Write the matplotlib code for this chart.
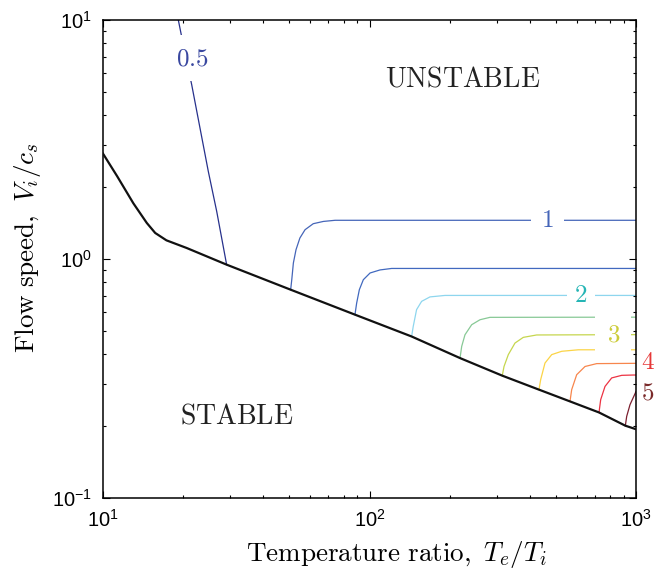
import matplotlib
matplotlib.use('Agg')
import matplotlib.pyplot as plt
from matplotlib.ticker import FixedLocator, LogLocator, NullFormatter

# ---------------- data ----------------
boundary_T = [10, 11.3, 13.0, 14.6, 15.7, 17.3, 20.6, 29.1, 50.6, 88.2, 143.9,
              218.6, 314.9, 432.5, 565.3, 726.4, 912, 1000]
boundary_V = [2.76, 2.22, 1.71, 1.415, 1.285, 1.197, 1.112, 0.947, 0.744, 0.585,
              0.474, 0.385, 0.325, 0.284, 0.2536, 0.228, 0.2007, 0.194]

c05_T = [19.17, 20.01, 21.52, 23.12, 24.84, 26.71, 29.1]
c05_V = [10.0, 7.88, 5.36, 3.53, 2.325, 1.582, 0.947]
c10_T = [50.6, 51.1, 51.8, 53.0, 54.8, 57.3, 61.5, 67.1, 74.3, 1000]
c10_V = [0.744, 0.821, 0.962, 1.094, 1.224, 1.326, 1.405, 1.436, 1.452, 1.452]
c15_T = [88.2, 89.5, 91.6, 94.8, 100.5, 109.5, 121.1, 1000]
c15_V = [0.585, 0.654, 0.744, 0.819, 0.874, 0.900, 0.913, 0.913]
c20_T = [143.9, 145.9, 150.2, 156.9, 168.6, 191.9, 1000]
c20_V = [0.474, 0.522, 0.614, 0.665, 0.694, 0.704, 0.704]
c25_T = [218.6, 221.8, 228.2, 241.8, 259.8, 283.1, 1000]
c25_V = [0.385, 0.431, 0.482, 0.531, 0.557, 0.570, 0.571]
c30_T = [314.9, 319.7, 331.8, 351.5, 377.6, 423.8, 1000]
c30_V = [0.325, 0.355, 0.398, 0.445, 0.470, 0.481, 0.4825]
c35_T = [432.5, 438.9, 455.5, 482.7, 526.3, 607.5, 1000]
c35_V = [0.284, 0.313, 0.367, 0.398, 0.411, 0.417, 0.417]
c40_T = [565.3, 573.7, 599.0, 643.7, 712.1, 1000]
c40_V = [0.2536, 0.284, 0.328, 0.355, 0.365, 0.366]
c45_T = [726.4, 737.1, 765.1, 810.6, 883.8, 977, 1000]
c45_V = [0.228, 0.258, 0.293, 0.318, 0.326, 0.327, 0.327]
c50_T = [912, 922.7, 949.5, 991.3, 1000]
c50_V = [0.2007, 0.2195, 0.2457, 0.273, 0.279]

contour_T = [c05_T, c10_T, c15_T, c20_T, c25_T, c30_T, c35_T, c40_T, c45_T, c50_T]
contour_V = [c05_V, c10_V, c15_V, c20_V, c25_V, c30_V, c35_V, c40_V, c45_V, c50_V]
contour_colors = ['#27318c', '#4565b8', '#4169bf', '#8ed6ee', '#88c996',
                  '#c6d64e', '#fbd447', '#f7864d', '#ec3343', '#7c2030']

label_texts = ['0.5', '1', '2', '3', '4', '5']
label_T = [21.7, 464.5, 620, 822, 1112, 1108]
label_V = [6.93, 1.452, 0.704, 0.4825, 0.372, 0.2766]
label_colors = ['#3a48a0', '#4565b8', '#25b5b5', '#cccc3a', '#e63838', '#7a2a2a']
label_pad = [0.45, 0.4, 0.3, 0.45, None, None]

xticks = [10, 100, 1000]
xtick_labels = [r'$\mathregular{10^{1}}$', r'$\mathregular{10^{2}}$', r'$\mathregular{10^{3}}$']
yticks = [0.1, 1, 10]
ytick_labels = [r'$\mathregular{10^{-1}}$', r'$\mathregular{10^{0}}$', r'$\mathregular{10^{1}}$']

region_texts = ['UNSTABLE', 'STABLE']
region_T = [224, 31.8]
region_V = [5.63, 0.219]

# ---------------- figure ----------------
plt.rcParams['font.family'] = ['Liberation Sans', 'DejaVu Sans']
plt.rcParams['mathtext.fontset'] = 'cm'

fig = plt.figure(figsize=(6.7, 5.73), dpi=100)
ax = fig.add_axes([103/670, 75/573, 533/670, 478/573])
ax.set_xscale('log')
ax.set_yscale('log')
ax.set_xlim(10, 1000)
ax.set_ylim(0.1, 10)

for T, V, c in zip(contour_T, contour_V, contour_colors):
    ax.plot(T, V, color=c, lw=0.9, zorder=2)

ax.plot(boundary_T, boundary_V, color='#111111', lw=1.6, zorder=3)

for s, T, V, c, p in zip(label_texts, label_T, label_V, label_colors, label_pad):
    kw = {}
    if p is not None:
        kw['bbox'] = dict(boxstyle='square,pad=%g' % p, fc='white', ec='none')
    ax.text(T, V, r'$\mathrm{' + s + '}$', color=c, fontsize=18,
            ha='center', va='center', zorder=4, clip_on=False, **kw)

for s, T, V in zip(region_texts, region_T, region_V):
    ax.text(T, V, r'$\mathrm{' + s + '}$', color='#222222', fontsize=20,
            ha='center', va='center')

ax.xaxis.set_major_locator(FixedLocator(xticks))
ax.set_xticklabels(xtick_labels)
ax.yaxis.set_major_locator(FixedLocator(yticks))
ax.set_yticklabels(ytick_labels)
ax.xaxis.set_minor_locator(LogLocator(base=10, subs=range(2, 10)))
ax.yaxis.set_minor_locator(LogLocator(base=10, subs=range(2, 10)))
ax.xaxis.set_minor_formatter(NullFormatter())
ax.yaxis.set_minor_formatter(NullFormatter())

ax.tick_params(which='both', direction='in', top=True, right=True,
               labelsize=14.5, width=0.8, colors='black')
ax.tick_params(which='major', length=5, pad=8)
ax.tick_params(which='minor', length=2.5)
for sp in ax.spines.values():
    sp.set_linewidth(1.1)

ax.set_xlabel(r'$\mathrm{Temperature\ ratio,}\ T_e/T_i$', fontsize=19.5)
ax.set_ylabel(r'$\mathrm{Flow\ speed,}\ V_i/c_s$', fontsize=19.5)
ax.xaxis.set_label_coords(0.55, -0.085)
ax.yaxis.set_label_coords(-0.112, 0.523)

fig.savefig('out.png', dpi=100)
